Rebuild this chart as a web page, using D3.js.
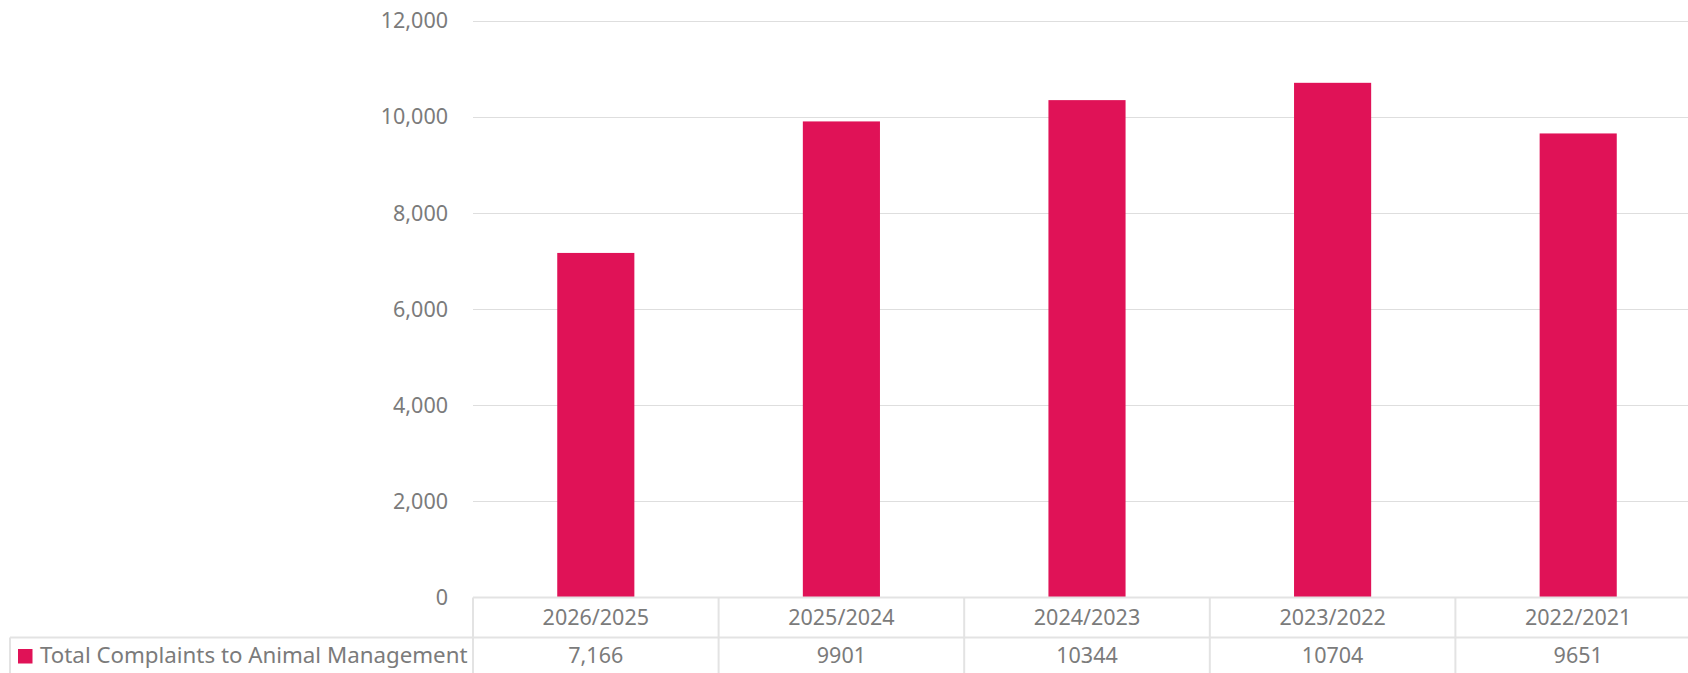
<!DOCTYPE html>
<html>
<head>
<meta charset="utf-8">
<script src="https://cdn.jsdelivr.net/npm/d3@7"></script>
<style>
  html, body { margin: 0; padding: 0; background: #fff; overflow: hidden; }
  svg text { font-family: "Noto Sans", "Open Sans", sans-serif; fill: #7b7b7b; }
</style>
</head>
<body>
<script>
// data
const years = ["2026/2025", "2025/2024", "2024/2023", "2023/2022", "2022/2021"];
const complaints = [7166, 9901, 10344, 10704, 9651];
const complaintLabels = ["7,166", "9901", "10344", "10704", "9651"];
const seriesName = "Total Complaints to Animal Management";
const yTicks = [0, 2000, 4000, 6000, 8000, 10000, 12000];

const width = 1688, height = 673;
const plotLeft = 473, colWidth = 245.6;
const plotTop = 20.5, plotBottom = 597.5;
const rowH = 40;
const barColor = "#e01257";
const gridColor = "#dedede";
const fontSize = "21.5px";

const svg = d3.select("body").append("svg")
  .attr("width", width)
  .attr("height", height);

const x = d3.scaleBand()
  .domain(years)
  .range([plotLeft, plotLeft + colWidth * years.length])
  .padding(0);

const y = d3.scaleLinear()
  .domain([0, 12000])
  .range([plotBottom, plotTop]);

const barW = x.bandwidth() * 0.314;

// gridlines + y labels
const yAxis = svg.append("g")
  .attr("transform", `translate(${plotLeft},0)`)
  .call(d3.axisLeft(y).tickValues(yTicks).tickSize(0).tickPadding(25)
    .tickFormat(d3.format(",")));
yAxis.select(".domain").remove();
yAxis.selectAll("text").attr("font-size", fontSize).attr("dy", "0.34em")
  .style("font-family", null);

svg.append("g").selectAll("line")
  .data(yTicks.filter(d => d > 0))
  .join("line")
  .attr("x1", plotLeft).attr("x2", width)
  .attr("y1", d => Math.round(y(d)) + 0.5).attr("y2", d => Math.round(y(d)) + 0.5)
  .attr("stroke", gridColor).attr("stroke-width", 1);

// bars
svg.append("g").selectAll("rect")
  .data(complaints)
  .join("rect")
  .attr("x", (d, i) => x(years[i]) + (x.bandwidth() - barW) / 2)
  .attr("y", d => y(d))
  .attr("width", barW)
  .attr("height", d => y(0) - y(d))
  .attr("fill", barColor);

// data table
const table = svg.append("g").attr("fill", "none").attr("stroke", "#e3e3e3").attr("stroke-width", 2);
const rowTop = plotBottom, rowMid = plotBottom + rowH, rowEnd = plotBottom + rowH * 2;
table.append("line").attr("x1", plotLeft).attr("x2", width).attr("y1", rowTop).attr("y2", rowTop);
table.append("line").attr("x1", 10).attr("x2", width).attr("y1", rowMid).attr("y2", rowMid);
table.append("line").attr("x1", 10).attr("x2", width).attr("y1", rowEnd).attr("y2", rowEnd);
table.append("line").attr("x1", 10).attr("x2", 10).attr("y1", rowMid).attr("y2", rowEnd);
table.selectAll(".div")
  .data(years)
  .join("line")
  .attr("x1", d => x(d)).attr("x2", d => x(d))
  .attr("y1", rowTop).attr("y2", rowEnd);

svg.append("g").selectAll("text")
  .data(years)
  .join("text")
  .attr("x", d => x(d) + x.bandwidth() / 2)
  .attr("y", rowTop + rowH / 2)
  .attr("dy", "0.35em")
  .attr("text-anchor", "middle")
  .attr("font-size", fontSize)
  .text(d => d);

svg.append("g").selectAll("text")
  .data(complaintLabels)
  .join("text")
  .attr("x", (d, i) => x(years[i]) + x.bandwidth() / 2)
  .attr("y", rowMid + rowH / 2 - 2)
  .attr("dy", "0.35em")
  .attr("text-anchor", "middle")
  .attr("font-size", fontSize)
  .text(d => d);

// legend key in row header
svg.append("rect")
  .attr("x", 18).attr("y", 649)
  .attr("width", 14.5).attr("height", 14.5)
  .attr("fill", barColor);
svg.append("text")
  .attr("x", 40)
  .attr("y", rowMid + rowH / 2 - 2)
  .attr("dy", "0.35em")
  .attr("font-size", "22.3px")
  .text(seriesName);
</script>
</body>
</html>
